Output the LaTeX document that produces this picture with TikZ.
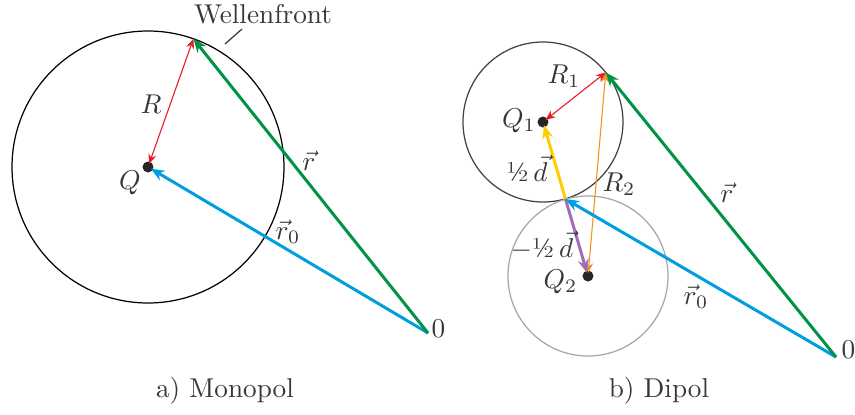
\documentclass[tikz,border=0pt]{standalone}
\usepackage{tikz}
\usetikzlibrary{arrows.meta,calc}
\definecolor{VecGreen}{RGB}{0,146,69}
\definecolor{VecBlue}{RGB}{0,158,224}
\definecolor{VecRed}{RGB}{228,30,38}
\definecolor{VecOrange}{RGB}{243,146,30}
\definecolor{VecYellow}{RGB}{255,204,0}
\definecolor{VecPurple}{RGB}{160,110,180}
\definecolor{TextGray}{RGB}{55,55,55}
\tikzset{
  bigvec/.style={-{Stealth[length=5pt,width=4pt]},line width=1.1pt},
  radvec/.style={{Stealth[length=3.6pt,width=3pt]}-{Stealth[length=3.6pt,width=3pt]},
    line width=0.4pt},
  front/.style={line width=0.45pt},
  charge/.style={fill=black!85},
  tocharge/.style={shorten >=1.2pt},
  lbl/.style={text=TextGray,inner sep=1pt},
  caption/.style={text=TextGray}
}

\begin{document}
\begin{tikzpicture}[x=1.29mm,y=1.29mm]
  \useasboundingbox (0,0) rectangle (85.5,41.4);
  % a) Monopol
  \coordinate (Q) at (14.8,24.7);
  \coordinate (O1) at (42.8,8.1);
  \coordinate (P) at ($(Q)+(70.5:13.6)$);
  \draw[front] (Q) circle[radius=13.6];
  \fill[charge] (Q) circle[radius=0.55];
  \draw[radvec,VecRed,shorten <=1.2pt] (Q) -- (P);
  \draw[bigvec,VecBlue,tocharge] (O1) -- (Q);
  \draw[bigvec,VecGreen] (O1) -- (P);
  \node[lbl] (Qlbl) at (13.0,23.1) {$Q$};
  \node[lbl] (Rlbl) at (15.1,31.0) {$R$};
  \node[lbl] (rlbl) at (30.9,25.3) {$\vec r$};
  \node[lbl] (rzerolbl) at (28.8,18.2) {$\vec r_0$};
  \node[lbl] (Oonelbl) at (43.85,8.5) {$0$};
  \node[lbl] (wf) at (26.3,40.0) {Wellenfront};
  \coordinate (wfa) at (22.5,37.0);
  \coordinate (wfb) at (24.2,38.5);
  \draw[front,TextGray] (wfa) -- (wfb);
  \node[caption] (capA) at (22.5,2.3) {a)~Monopol};
  % b) Dipol
  \coordinate (Q1) at (54.3,29.2);
  \coordinate (Q2) at (58.8,13.8);
  \coordinate (M) at ($(Q1)!0.5!(Q2)$);
  \coordinate (O2) at (83.6,5.7);
  \coordinate (P2) at ($(Q1)+(38.3:8)$);
  \draw[front,black!75] (Q1) circle[radius=8];
  \draw[front,black!35] (Q2) circle[radius=8];
  \fill[charge] (Q1) circle[radius=0.55];
  \fill[charge] (Q2) circle[radius=0.55];
  \draw[radvec,VecOrange,shorten <=1.2pt] (Q2) -- (P2);
  \draw[radvec,VecRed,shorten <=1.2pt] (Q1) -- (P2);
  \draw[bigvec,VecYellow,tocharge] (M) -- (Q1);
  \draw[bigvec,VecPurple,tocharge] (M) -- (Q2);
  \draw[bigvec,VecBlue] (O2) -- (M);
  \draw[bigvec,VecGreen] (O2) -- (P2);
  \node[lbl] (Qonelbl) at (51.9,29.3) {$Q_1$};
  \node[lbl] (Qtwolbl) at (56.05,13.2) {$Q_2$};
  \node[lbl] (Ronelbl) at (56.4,33.8) {$R_1$};
  \node[lbl] (Rtwolbl) at (61.9,23.0) {$R_2$};
  \node[lbl] (dplbl) at (52.7,24.6) {\textonehalf$\,\vec d$};
  \node[lbl] (dmlbl) at (54.2,16.9) {$-$\textonehalf$\,\vec d$};
  \node[lbl] (rlblb) at (72.7,22.1) {$\vec r$};
  \node[lbl] (rzerolblb) at (69.6,11.7) {$\vec r_0$};
  \node[lbl] (Otwolbl) at (84.85,6.4) {$0$};
  \node[caption] (capB) at (65.9,2.3) {b)~Dipol};
\end{tikzpicture}
\end{document}
